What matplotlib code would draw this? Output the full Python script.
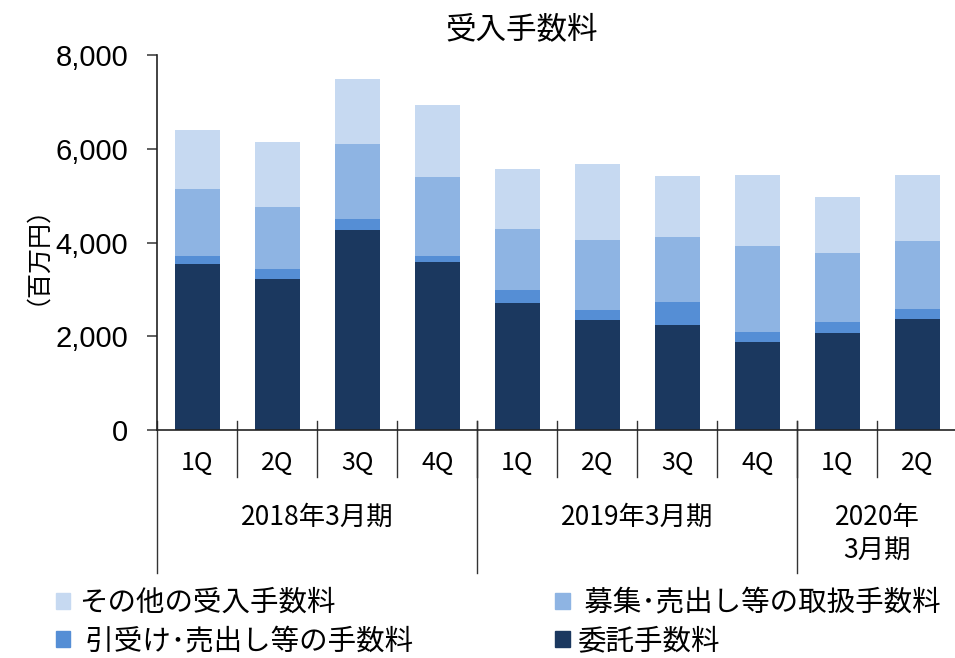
import numpy as np
import matplotlib
matplotlib.use("Agg")
import matplotlib.pyplot as plt
from matplotlib.patches import Patch

plt.rcParams['font.family'] = ['Noto Sans CJK JP', 'DejaVu Sans']

# Data (百万円)
quarters = ['1Q', '2Q', '3Q', '4Q', '1Q', '2Q', '3Q', '4Q', '1Q', '2Q']
periods = ['2018年3月期', '2019年3月期', '2020年\n3月期']
period_sizes = [4, 4, 2]

itaku = [3551, 3231, 4270, 3594, 2718, 2355, 2248, 1886, 2078, 2377]      # 委託手数料
hikiuke = [171, 213, 235, 121, 271, 214, 485, 213, 228, 206]              # 引受け・売出し等の手数料
boshu = [1430, 1324, 1601, 1687, 1302, 1494, 1381, 1829, 1473, 1452]      # 募集・売出し等の取扱手数料
sonota = [1246, 1374, 1381, 1537, 1275, 1609, 1302, 1516, 1196, 1409]     # その他の受入手数料

series = [itaku, hikiuke, boshu, sonota]
labels = ['委託手数料', ' 引受け･売出し等の手数料', ' 募集･売出し等の取扱手数料', 'その他の受入手数料']
colors = ['#1B385F', '#558ED5', '#8EB4E3', '#C6D9F1']

W, H = 955, 658
fig = plt.figure(figsize=(W / 100, H / 100), dpi=100)
ax = fig.add_axes([157.3 / W, 1 - 430 / H, 800 / W, 374.7 / H])

x = np.arange(len(quarters))
bottom = np.zeros(len(quarters))
for vals, c in zip(series, colors):
    ax.bar(x, vals, width=0.56, bottom=bottom, color=c, edgecolor='none')
    bottom += np.array(vals)

ax.set_xlim(-0.5, len(quarters) - 0.5)
ax.set_ylim(0, 8000)
ax.set_yticks(range(0, 8001, 2000))
ax.set_yticklabels([f'{v:,}' for v in range(0, 8001, 2000)],
                   family=['Liberation Sans', 'DejaVu Sans'], fontsize=21)
ax.tick_params(axis='y', length=7, width=1.2, pad=14, color='#444444')
ax.set_xticks([])
for s in ['top', 'right']:
    ax.spines[s].set_visible(False)
ax.spines['left'].set_color('#222222')
ax.spines['bottom'].set_color('#222222')
ax.spines['left'].set_linewidth(1.2)
ax.spines['bottom'].set_linewidth(1.2)

# category axis: quarter labels and period groups
tr = ax.get_xaxis_transform()
axh = 374.7
for i, q in enumerate(quarters):
    ax.text(i, -33 / axh, q, transform=tr, ha='center', va='center', fontsize=18)
for i in range(1, len(quarters)):
    ax.plot([i - 0.5, i - 0.5], [9 / axh, -47 / axh], transform=tr,
            color='#333333', lw=1, clip_on=False)
start = 0
for name, n in zip(periods, period_sizes):
    ax.plot([start - 0.5, start - 0.5], [9 / axh, -143 / axh], transform=tr,
            color='#333333', lw=1, clip_on=False)
    ax.text(start + n / 2 - 0.5, -87 / axh if '\n' not in name else -104 / axh, name,
            transform=tr, ha='center', va='center', fontsize=19, linespacing=1.25)
    start += n

fig.text(522 / W, 1 - 30 / H, '受入手数料', ha='center', va='center', fontsize=22)
fig.text(24 / W, 1 - 243 / H, '（百万円）', ha='center', va='center', rotation=90, fontsize=18)

handles = [Patch(color=colors[3]), Patch(color=colors[1]),
           Patch(color=colors[2]), Patch(color=colors[0])]
leg_labels = [labels[3], labels[1], labels[2], labels[0]]
fig.legend(handles, leg_labels, ncol=2, loc='center left',
           bbox_to_anchor=(56 / W, 1 - 622 / H), frameon=False, fontsize=20.5,
           handlelength=0.5, handleheight=0.5, handletextpad=0.3,
           columnspacing=5.0, labelspacing=0.3, borderaxespad=0, borderpad=0)

fig.savefig('out.png', dpi=100)
